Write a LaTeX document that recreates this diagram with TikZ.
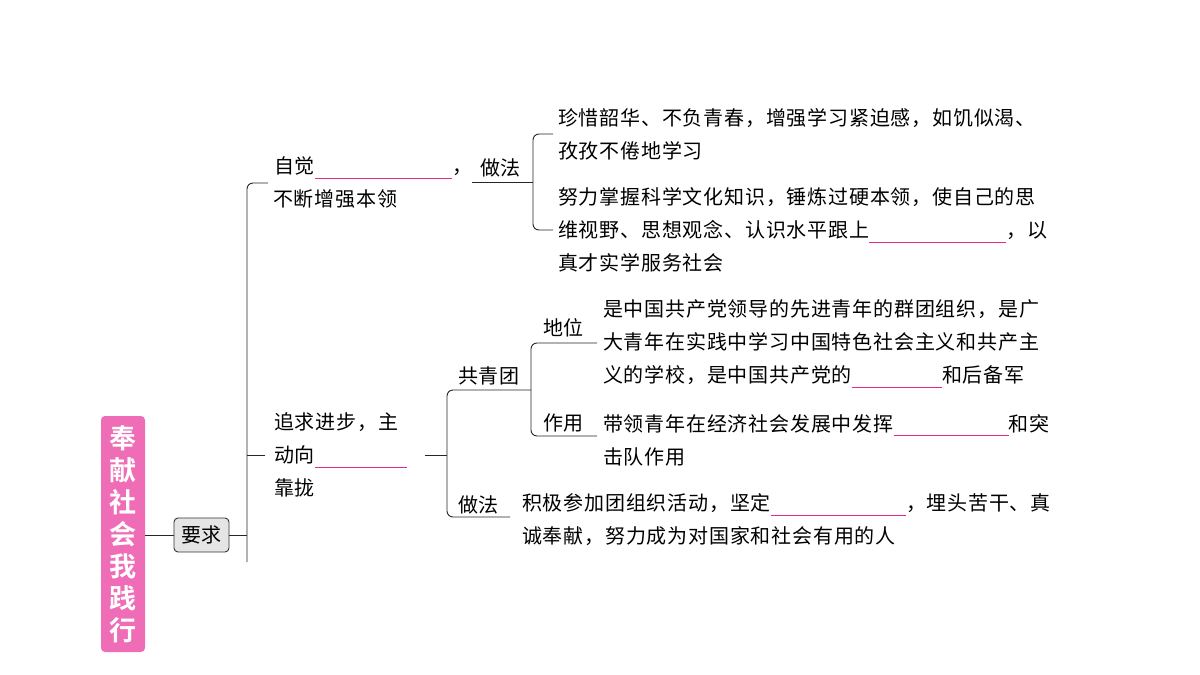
\documentclass[tikz,border=0pt]{standalone}
\usepackage{fontspec}
\setmainfont{Noto Sans CJK SC}
\newfontfamily\cjk[LetterSpace=4]{Noto Sans CJK SC}
\newfontfamily\cjkb[LetterSpace=4]{Noto Sans CJK SC Bold}
\definecolor{pinkbox}{HTML}{EF6DB6}
\definecolor{pinkline}{HTML}{E6288F}
\newcommand{\blank}[1]{\textcolor{pinkline}{\rule[-5pt]{#1pt}{1pt}}}
\begin{document}
\begin{tikzpicture}[x=1pt,y=-1pt,
  txt/.style={anchor=west,inner sep=0pt,font=\cjk\fontsize{20}{33}\selectfont,align=left},
  ln/.style={line width=0.9pt,black!85},
  rc/.style={ln,rounded corners=6pt}]
\useasboundingbox (0,0) rectangle (1200,675);
\node[fill=pinkbox,rounded corners=4pt,minimum width=44pt,minimum height=236pt,inner sep=0pt,
  text=white,font=\cjkb\fontsize{27}{32}\selectfont,align=center] (title) at (123,534)
  {奉\\献\\社\\会\\我\\践\\行};
\node[draw=black!80,fill=black!10,rounded corners=4pt,line width=0.9pt,minimum width=55pt,minimum height=34pt,inner sep=0pt,font=\cjk\fontsize{20}{24}\selectfont] (req) at (201.5,535) {要求};
\draw[ln] (title.east |- req) -- (req.west);
\coordinate (b1) at (247,535);
\draw[ln] (req.east) -- (b1);
\draw[rc] (268,183) -- (247,183) -- (247,562);
\draw[ln] (247,455) -- (265,455);
% top branch
\node[txt] (zj) at (274,168) {自觉\blank{137}，};
\node[txt] (zf1) at (480,168) {做法};
\node[txt] (bd) at (273,199) {不断增强本领};
\coordinate (j1) at (472,182);
\coordinate (j2) at (533,182);
\draw[ln] (j1) -- (j2);
\draw[rc] (553,134) -- (533,134) -- (533,230) -- (553,230);
\node[txt] (t1) at (558,134) {珍惜韶华、不负青春，增强学习紧迫感，如饥似渴、\\孜孜不倦地学习};
\node[txt] (t2) at (558,230) {努力掌握科学文化知识，锤炼过硬本领，使自己的思\\维视野、思想观念、认识水平跟上\blank{137}，以\\真才实学服务社会};
% middle branch
\node[txt] (zq) at (274,455) {追求进步，主\\动向\blank{92}\\靠拢};
\draw[ln] (425,455) -- (447,455);
\draw[rc] (531,390) -- (447,390) -- (447,517) -- (510,517);
\node[txt] (gqt) at (458,376) {共青团};
\node[txt] (zf2) at (458,505) {做法};
\draw[rc] (597,343) -- (531,343) -- (531,436) -- (597,436);
\node[txt] (dw) at (543,328) {地位};
\node[txt] (zy) at (543,423) {作用};
\node[txt] (t3) at (603,344) {是中国共产党领导的先进青年的群团组织，是广\\大青年在实践中学习中国特色社会主义和共产主\\义的学校，是中国共产党的\blank{90}和后备军};
\node[txt] (t4) at (603,440) {带领青年在经济社会发展中发挥\blank{115}和突\\击队作用};
\node[txt] (t5) at (522,520) {积极参加团组织活动，坚定\blank{135}，埋头苦干、真\\诚奉献，努力成为对国家和社会有用的人};
\end{tikzpicture}
\end{document}
